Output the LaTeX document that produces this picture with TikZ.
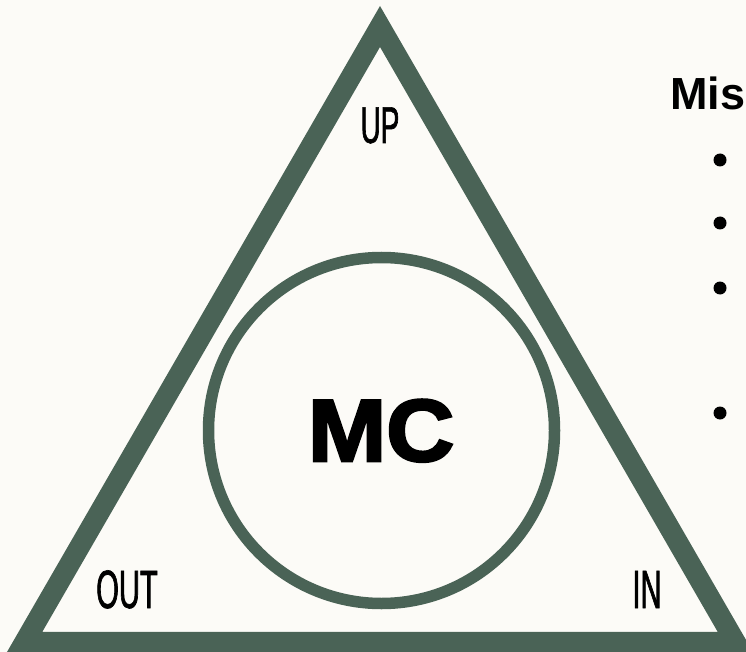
\documentclass[tikz,border=0pt]{standalone}
\usepackage{fontspec}
\setmainfont{Liberation Sans}
\newfontfamily\condfont[FakeStretch=0.54,FakeBold=1.2]{Liberation Sans}
\newfontfamily\heavyfont[FakeBold=3,FakeStretch=1.07]{Liberation Sans Bold}
\definecolor{tri}{RGB}{74,99,86}
\definecolor{bg}{RGB}{252,251,247}
\tikzset{
  frame/.style={draw=tri, line width=20.5pt, line join=miter},
  ring/.style={draw=tri, line width=11.5pt},
  corner/.style={font=\condfont\fontsize{54}{54}\selectfont, inner sep=0pt, anchor=base},
  bulletdot/.style={circle, fill=black, inner sep=0pt, minimum size=13pt},
}
\begin{document}
\begin{tikzpicture}[x=1pt,y=-1pt]
\useasboundingbox (0,0) rectangle (746,652);
\fill[bg] (0,0) rectangle (746,652);
\clip (0,0) rectangle (746,652);
\coordinate (A) at (380,26.5);
\coordinate (B) at (24.6,642);
\coordinate (C) at (735.4,642);
\draw[frame] (A) -- (B) -- (C) -- cycle;
\node[ring, circle, minimum size=346pt, inner sep=0pt] (circ) at (381.5,430.5) {};
\node[font=\heavyfont\fontsize{88}{88}\selectfont, inner sep=0pt, anchor=base] (mc) at (381,461) {MC};
\node[corner, font=\condfont\fontsize{51.7}{51.7}\selectfont] (up) at (380,143) {UP};
\node[corner] (out) at (127,608) {OUT};
\node[corner] (in) at (647,608) {IN};
\node[font=\bfseries\fontsize{45}{45}\selectfont, inner sep=0pt, anchor=base west] (mis) at (670,110) {Mis};
\node[bulletdot] (b1) at (720,160) {};
\node[bulletdot] (b2) at (720,223) {};
\node[bulletdot] (b3) at (720,288) {};
\node[bulletdot] (b4) at (720,413) {};
\end{tikzpicture}
\end{document}
